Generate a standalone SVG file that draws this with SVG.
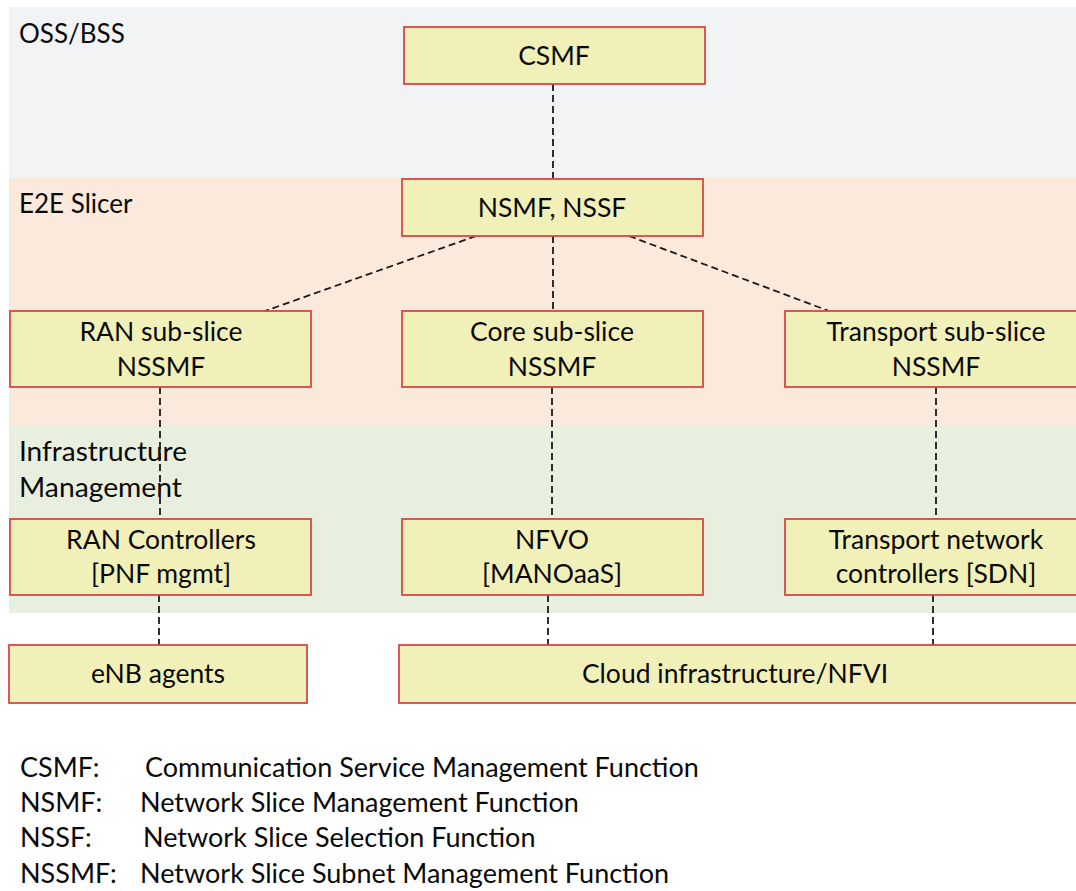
<svg xmlns="http://www.w3.org/2000/svg" width="1076" height="891" viewBox="0 0 1076 891">
<style>
.band-label{font-family:Lato,"Liberation Sans",sans-serif;font-size:26px;fill:#0a0a0a}
.box{fill:#f2f0b9;stroke:#d94646;stroke-width:1.8}
.t{font-family:Lato,"Liberation Sans",sans-serif;font-size:26.5px;fill:#0a0a0a;text-anchor:middle}
.conn{stroke:#1a1a1a;stroke-width:1.8;stroke-dasharray:7 4;fill:none}
.leg{font-family:Lato,"Liberation Sans",sans-serif;font-size:27px;fill:#0a0a0a}
</style>
<rect width="1076" height="891" fill="#ffffff"/>
<g id="bands">
<rect x="9" y="7" width="1067" height="171" fill="#f2f3f5"/>
<rect x="9" y="178" width="1067" height="247" fill="#fbeadc"/>
<rect x="9" y="425" width="1067" height="188" fill="#e9efdf"/>
<text class="band-label" x="19" y="43">OSS/BSS</text>
<text class="band-label" x="19" y="213">E2E Slicer</text>
<text class="band-label" x="19" y="461" textLength="168" lengthAdjust="spacingAndGlyphs">Infrastructure</text>
<text class="band-label" x="19" y="497" textLength="163" lengthAdjust="spacingAndGlyphs">Management</text>
</g>
<g id="connectors">
<line class="conn" x1="553" y1="84" x2="553" y2="178"/>
<line class="conn" x1="476" y1="236" x2="265" y2="311"/>
<line class="conn" x1="553" y1="236" x2="553" y2="311"/>
<line class="conn" x1="629" y1="236" x2="829" y2="311"/>
<line class="conn" x1="160" y1="387" x2="160" y2="519"/>
<line class="conn" x1="552" y1="387" x2="552" y2="519"/>
<line class="conn" x1="936" y1="387" x2="936" y2="519"/>
<line class="conn" x1="159" y1="595" x2="159" y2="645"/>
<line class="conn" x1="548" y1="595" x2="548" y2="645"/>
<line class="conn" x1="933" y1="595" x2="933" y2="645"/>
</g>
<g id="csmf"><rect class="box" x="404" y="27" width="301" height="57"/><text class="t" x="554" y="65">CSMF</text></g>
<g id="nsmf"><rect class="box" x="402" y="179" width="301" height="57"/><text class="t" x="552" y="217">NSMF, NSSF</text></g>
<g id="ran-nssmf"><rect class="box" x="10" y="311" width="301" height="76"/><text class="t" x="161" y="341">RAN sub-slice</text><text class="t" x="161" y="376">NSSMF</text></g>
<g id="core-nssmf"><rect class="box" x="402" y="311" width="301" height="76"/><text class="t" x="552" y="341">Core sub-slice</text><text class="t" x="552" y="376">NSSMF</text></g>
<g id="transport-nssmf"><rect class="box" x="785" y="311" width="292" height="76"/><text class="t" x="936" y="341">Transport sub-slice</text><text class="t" x="936" y="376">NSSMF</text></g>
<g id="ran-controllers"><rect class="box" x="10" y="519" width="301" height="76"/><text class="t" x="161" y="549">RAN Controllers</text><text class="t" x="161" y="583">[PNF mgmt]</text></g>
<g id="nfvo"><rect class="box" x="402" y="519" width="301" height="76"/><text class="t" x="552" y="549">NFVO</text><text class="t" x="552" y="583">[MANOaaS]</text></g>
<g id="transport-controllers"><rect class="box" x="785" y="519" width="292" height="76"/><text class="t" x="936" y="549">Transport network</text><text class="t" x="936" y="583">controllers [SDN]</text></g>
<g id="enb-agents"><rect class="box" x="9" y="645" width="298" height="58"/><text class="t" x="158" y="683">eNB agents</text></g>
<g id="cloud"><rect class="box" x="399" y="645" width="678" height="58"/><text class="t" x="735" y="683">Cloud infrastructure/NFVI</text></g>
<g id="legend">
<text class="leg" x="20" y="777">CSMF:</text><text class="leg" x="145" y="777">Communication Service Management Function</text>
<text class="leg" x="20" y="812">NSMF:</text><text class="leg" x="140" y="812">Network Slice Management Function</text>
<text class="leg" x="20" y="847">NSSF:</text><text class="leg" x="143" y="847">Network Slice Selection Function</text>
<text class="leg" x="20" y="883">NSSMF:</text><text class="leg" x="140" y="883">Network Slice Subnet Management Function</text>
</g>
</svg>
